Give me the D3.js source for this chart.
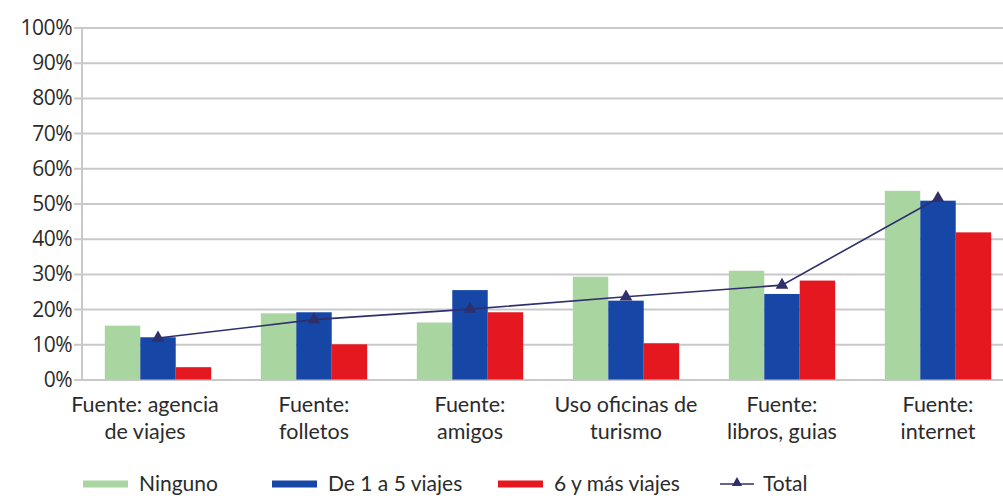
<!DOCTYPE html>
<html lang="es">
<head>
<meta charset="UTF-8">
<title>Fuentes de información por número de viajes</title>
<script src="https://d3js.org/d3.v7.min.js"></script>
<style>
  * { margin: 0; padding: 0; box-sizing: border-box; }
  body { background: #fff; width: 1003px; height: 498px; overflow: hidden; }
  svg { display: block; }
  .grid line { stroke: #c9c9c9; stroke-width: 2; }
  .grid .domain { display: none; }
  .ytick text { font-family: 'Open Sans', sans-serif; font-size: 21px; fill: #2b2b2b; letter-spacing: -0.5px; }
  .cat-label { font-family: Lato, sans-serif; font-size: 21.5px; fill: #2b2b2b; text-anchor: middle; }
  .legend text { font-family: Lato, sans-serif; font-size: 21px; fill: #2b2b2b; }
</style>
</head>
<body>
<div id="chart"></div>
<script>
// Categories (two-line labels, as in the original)
const categories = [
  ["Fuente: agencia", "de viajes"],
  ["Fuente:", "folletos"],
  ["Fuente:", "amigos"],
  ["Uso oficinas de", "turismo"],
  ["Fuente:", "libros, guias"],
  ["Fuente:", "internet"]
];
const seriesNames = ["Ninguno", "De 1 a 5 viajes", "6 y más viajes"];
const ninguno   = [15.3, 18.8, 16.2, 29.2, 30.9, 53.6];
const de1a5     = [12.0, 19.1, 25.4, 22.4, 24.3, 50.8];
const seisYMas  = [3.5, 10.0, 19.1, 10.3, 28.1, 41.8];
const total     = [11.8, 17.0, 20.0, 23.5, 26.8, 51.5];
const yTicks    = [0, 10, 20, 30, 40, 50, 60, 70, 80, 90, 100];

const colors = ["#a8d5a0", "#1747a6", "#e5171f"];
const lineColor = "#2f2f6b";

const W = 1003, H = 498;
const svg = d3.select("#chart").append("svg")
  .attr("width", W).attr("height", H);

const x0 = d3.scaleBand()
  .domain(d3.range(categories.length))
  .range([80, 1016])
  .paddingInner(0)
  .paddingOuter(0);

const x1 = d3.scaleBand()
  .domain([0, 1, 2])
  .range([0, x0.bandwidth()])
  .paddingInner(0)
  .paddingOuter(0.7);

const y = d3.scaleLinear().domain([0, 100]).range([379.5, 27.5]);

// gridlines
svg.append("g")
  .attr("class", "grid")
  .attr("transform", "translate(74,0)")
  .call(d3.axisLeft(y).tickValues(yTicks).tickSize(-(W - 74)).tickFormat(""));

// y axis line
svg.append("line")
  .attr("x1", 82).attr("x2", 82)
  .attr("y1", y(100)).attr("y2", y(0))
  .attr("stroke", "#c9c9c9").attr("stroke-width", 2);

// y tick labels
svg.append("g").attr("class", "ytick")
  .selectAll("text").data(yTicks).join("text")
  .attr("x", 72).attr("y", d => y(d))
  .attr("dy", "0.36em")
  .attr("text-anchor", "end")
  .text(d => d + "%");

// bars
const seriesData = [ninguno, de1a5, seisYMas];
seriesData.forEach((vals, s) => {
  svg.append("g").selectAll("rect").data(vals).join("rect")
    .attr("x", (d, i) => x0(i) + x1(s))
    .attr("width", x1.bandwidth())
    .attr("y", d => y(d))
    .attr("height", d => y(0) - y(d))
    .attr("fill", colors[s]);
});

// Total line with triangle markers (centred on the middle bar)
const cx = i => x0(i) + x1(1) + x1.bandwidth() / 2;
const line = d3.line().x((d, i) => cx(i)).y(d => y(d));
svg.append("path")
  .datum(total)
  .attr("d", line)
  .attr("fill", "none")
  .attr("stroke", lineColor)
  .attr("stroke-width", 1.6);

const tri = d3.symbol().type(d3.symbolTriangle).size(70);
svg.append("g").selectAll("path").data(total).join("path")
  .attr("d", tri)
  .attr("transform", (d, i) => `translate(${cx(i)},${y(d)})`)
  .attr("fill", lineColor);

// category labels (first one sits a little left, as in the original)
const labelShift = i => i === 0 ? -13 : 0;
const labels = svg.append("g").selectAll("text").data(categories).join("text")
  .attr("class", "cat-label")
  .attr("x", (d, i) => x0(i) + x0.bandwidth() / 2 + labelShift(i))
  .attr("y", 412);
labels.selectAll("tspan").data(d => d).join("tspan")
  .attr("x", function () { return d3.select(this.parentNode).attr("x"); })
  .attr("dy", (d, j) => j === 0 ? 0 : 27)
  .text(d => d);

// legend
const legendX = [83, 272, 498, 720];
const legendY = 484;
const legend = svg.append("g").attr("class", "legend");
seriesNames.forEach((name, s) => {
  legend.append("rect")
    .attr("x", legendX[s]).attr("y", legendY - 3.5)
    .attr("width", 45).attr("height", 7)
    .attr("fill", colors[s]);
  legend.append("text")
    .attr("x", legendX[s] + 56).attr("y", legendY)
    .attr("dy", "0.35em")
    .text(name);
});
legend.append("line")
  .attr("x1", legendX[3]).attr("x2", legendX[3] + 34)
  .attr("y1", legendY).attr("y2", legendY)
  .attr("stroke", lineColor).attr("stroke-width", 1.6);
legend.append("path")
  .attr("d", d3.symbol().type(d3.symbolTriangle).size(45))
  .attr("transform", `translate(${legendX[3] + 17},${legendY - 1})`)
  .attr("fill", lineColor);
legend.append("text")
  .attr("x", legendX[3] + 43).attr("y", legendY)
  .attr("dy", "0.35em")
  .text("Total");
</script>
</body>
</html>
